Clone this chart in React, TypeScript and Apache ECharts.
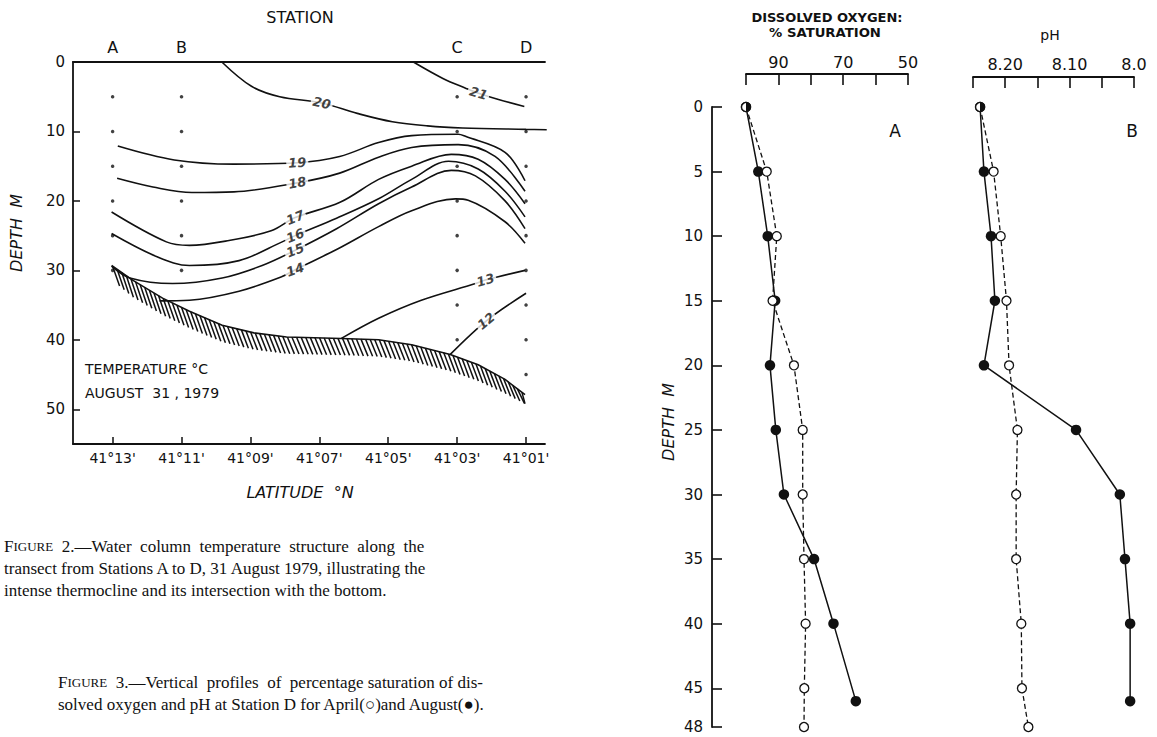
import React, { useEffect, useRef } from 'react';
import * as echarts from 'echarts';

// ---------- FIGURE 2 : temperature section (latitude in minutes past 41°N, depth m) ----------
const latTicks = [13, 11, 9, 7, 5, 3, 1];
const depthTicksFig2 = [0, 10, 20, 30, 40, 50];
const stationNames = ['A', 'B', 'C', 'D'];
const stationLat = [13, 11, 3, 1];
const stationDepths = [
  [5, 10, 15, 20, 25, 30],
  [5, 10, 15, 20, 25, 30],
  [5, 10, 15, 20, 25, 30, 35, 40],
  [5, 10, 15, 20, 25, 30, 35, 40, 45],
];

const iso21 = [[4.27, 0], [3.4, 2.4], [2.74, 3.8], [2.38, 4.5], [1.8, 5.4], [1.05, 6.4]];
const iso20 = [[9.83, 0], [8.97, 3.5], [8.15, 5.0], [6.93, 5.9], [5.9, 7.4], [4.88, 8.6], [3.86, 9.2], [2.84, 9.5], [1.0, 9.7], [0.4, 9.75]];
const iso19 = [[12.85, 12.1], [11.21, 14.1], [9.48, 14.7], [7.64, 14.5], [6.41, 13.6], [5.28, 11.6], [4.32, 10.6], [2.97, 10.4], [2.76, 10.7], [1.61, 13], [1.03, 17.1]];
const iso18 = [[12.87, 16.75], [11.83, 18], [10.7, 18.8], [9.48, 18.7], [7.64, 17.4], [6.41, 16], [5.28, 13.7], [4.32, 12.3], [2.97, 11.9], [1.9, 13.6], [1.03, 18.6]];
const iso17 = [[13.03, 21.6], [11.44, 25.9], [10.77, 26.4], [9.62, 25.7], [8.4, 24.3], [7.7, 22.4], [6.4, 20.2], [5.28, 16.9], [4.32, 15], [3.17, 13.3], [2.39, 14], [1.61, 16.9], [1.03, 20.4]];
const iso16 = [[13.03, 24.7], [11.73, 28], [10.77, 29.3], [9.33, 28.6], [8.08, 25.9], [7.7, 25], [6.5, 22.5], [5.28, 19.7], [4.32, 16.9], [3.25, 14.3], [2.39, 15.4], [1.61, 18.6], [1.03, 22.3]];
const iso15 = [[13.03, 29.4], [12.5, 31.1], [11.26, 31.9], [9.82, 31.1], [8.66, 29.3], [7.7, 27.1], [6.5, 24], [5.28, 20.4], [4.32, 18], [3.17, 15.6], [2.47, 16.4], [1.61, 20], [1.03, 24]];
const iso14 = [[11.64, 34.4], [10.77, 34.3], [9.33, 33], [8.08, 30.9], [7.7, 29.9], [6.5, 27], [5.28, 23.7], [4.32, 21.4], [3.05, 19.7], [2.68, 19.9], [1.61, 23], [1.03, 26.1]];
const iso13 = [[6.36, 39.8], [5.28, 36.9], [4.04, 34.3], [2.47, 31.9], [2.18, 31.4], [1.03, 30]];
const iso12 = [[3.2, 42.1], [2.16, 37.3], [1.0, 33.3]];

const isoLabelText = ['21', '20', '19', '18', '17', '16', '15', '14', '13', '12'];
const isoLabelLat = [2.38, 6.93, 7.64, 7.64, 7.7, 7.7, 7.7, 7.7, 2.18, 2.16];
const isoLabelDepth = [4.5, 5.9, 14.5, 17.4, 22.4, 25, 27.1, 29.9, 31.4, 37.3];

const bottomLat = [13.03, 12.42, 11.55, 10.77, 9.82, 8.9, 7.95, 6.36, 5.28, 4.32, 3.2, 2.39, 1.61, 1.03];
const bottomDepth = [29.3, 31.4, 34, 35.9, 37.9, 39.0, 39.6, 39.8, 40, 40.7, 42.1, 43.6, 45.7, 47.9];
const hatchThickness = [2.0, 2.4, 2.4, 2.4, 2.4, 2.4, 2.4, 2.4, 2.4, 2.4, 2.4, 2.3, 2.0, 1.3];

// ---------- FIGURE 3 : profiles at Station D ----------
const depthTicksFig3 = [0, 5, 10, 15, 20, 25, 30, 35, 40, 45, 48];
const doTicks = [100, 90, 80, 70, 60, 50];
const doLabels = [90, 70, 50];
const phTicks = [8.25, 8.2, 8.15, 8.1, 8.05, 8.0];
const phLabels = [8.2, 8.1, 8.0];

const depthApril = [0, 5, 10, 15, 20, 25, 30, 35, 40, 45, 48];
const doApril = [100, 93.6, 90.5, 91.8, 85.2, 82.5, 82.5, 82.1, 81.6, 82, 82.1];
const phApril = [8.239, 8.218, 8.207, 8.198, 8.194, 8.181, 8.183, 8.183, 8.175, 8.174, 8.164];

const depthAugust = [0, 5, 10, 15, 20, 25, 30, 35, 40, 46];
const doAugust = [100, 96.2, 93.3, 91.0, 92.6, 90.8, 88.3, 79, 73, 66.1];
const phAugust = [8.239, 8.233, 8.222, 8.216, 8.233, 8.09, 8.022, 8.014, 8.006, 8.006];

// ---------- styling ----------
const FONT = "'DejaVu Sans', sans-serif";
const SERIF = "'Liberation Serif', 'DejaVu Serif', serif";
const INK = '#111';
const labelRotation: Record<string, number> = { '21': -17, '20': -12, '19': 4, '18': 10, '17': 22, '16': 22, '15': 22, '14': 20, '13': 16, '12': 39 };

const halfFill = {
  type: 'linear', x: 0, y: 0, x2: 1, y2: 0,
  colorStops: [
    { offset: 0, color: '#fff' }, { offset: 0.5, color: '#fff' },
    { offset: 0.5, color: INK }, { offset: 1, color: INK },
  ],
};

function buildOption(): any {
  const isoLines = [iso21, iso20, iso19, iso18, iso17, iso16, iso15, iso14, iso13, iso12];
  const contourSeries = isoLines.map((d) => ({
    type: 'line', xAxisIndex: 0, yAxisIndex: 0, data: d, smooth: 0.35, symbol: 'none',
    lineStyle: { color: INK, width: 1.6 }, silent: true, z: 2,
  }));

  const dots: number[][] = [];
  stationLat.forEach((m, i) => stationDepths[i].forEach((d) => dots.push([m, d])));

  const profile = (x: number[], y: number[], xi: number, yi: number, open: boolean) => ({
    type: 'line', xAxisIndex: xi, yAxisIndex: yi,
    data: x.map((v, i) => {
      const item: any = { value: [v, y[i]] };
      if (open && i === 0) item.itemStyle = { color: halfFill };
      return item;
    }),
    symbol: 'circle', symbolSize: open ? 9 : 10.5,
    itemStyle: open ? { color: '#fff', borderColor: INK, borderWidth: 1.3 } : { color: INK },
    lineStyle: { color: INK, width: open ? 1.3 : 1.5, type: open ? [5, 3] : 'solid' },
    z: open ? 4 : 3, silent: true,
  });

  const txt = (text: string, x: number, y: number, extra: any = {}) => ({
    type: 'text', x, y, silent: true,
    scaleX: extra.scaleX || 1,
    style: { text, fill: INK, fontFamily: FONT, fontSize: extra.size || 15,
      fontStyle: extra.italic ? 'italic' : 'normal', fontWeight: extra.bold ? 'bold' : 'normal',
      align: extra.align || 'center', verticalAlign: 'middle' },
    rotation: extra.rotation || 0,
  });

  const capRich = { F: { fontSize: 17, fontFamily: SERIF, fill: INK }, S: { fontSize: 13, fontFamily: SERIF, fill: INK } };
  const cap = (text: string, x: number, y: number) => ({
    type: 'text', x, y, silent: true,
    style: { text, fill: INK, fontSize: 17, fontFamily: SERIF, align: 'left', verticalAlign: 'middle', rich: capRich },
  });

  const xLine = { show: true, onZero: false, lineStyle: { color: INK, width: 1.8 } };
  const yLine = { show: true, onZero: false, lineStyle: { color: INK, width: 1.8 } };

  return {
    animation: false,
    backgroundColor: '#fff',
    grid: [
      { left: 73, top: 62, width: 472, height: 382 },
      { left: 746, top: 107, width: 162, height: 620 },
      { left: 973, top: 107, width: 161, height: 620 },
    ],
    xAxis: [
      {
        gridIndex: 0, type: 'value', position: 'bottom', inverse: true, min: 0.45, max: 14.15,
        axisLine: xLine,
        axisTick: { show: true, inside: true, length: 7, customValues: latTicks, lineStyle: { color: INK, width: 1.5 } },
        axisLabel: { customValues: latTicks, margin: 7, color: INK, fontFamily: FONT, fontSize: 14,
          formatter: (v: number) => `41°${String(Math.round(v)).padStart(2, '0')}'` },
        splitLine: { show: false },
      },
      {
        gridIndex: 0, type: 'value', position: 'top', inverse: true, min: 0.45, max: 14.15,
        axisLine: xLine,
        axisTick: { show: false },
        axisLabel: { customValues: stationLat, margin: 7, color: INK, fontFamily: FONT, fontSize: 16,
          formatter: (v: number) => stationNames[stationLat.indexOf(v)] },
        splitLine: { show: false },
      },
      {
        gridIndex: 1, type: 'value', position: 'top', offset: 33, inverse: true, min: 50, max: 100,
        axisLine: xLine,
        axisTick: { show: true, inside: true, length: 11, customValues: doTicks, lineStyle: { color: INK, width: 1.6 } },
        axisLabel: { customValues: doLabels, margin: 4, color: INK, fontFamily: FONT, fontSize: 16 },
        splitLine: { show: false },
      },
      {
        gridIndex: 2, type: 'value', position: 'top', offset: 30, inverse: true, min: 8.0, max: 8.25,
        axisLine: xLine,
        axisTick: { show: true, inside: true, length: 11, customValues: phTicks, lineStyle: { color: INK, width: 1.6 } },
        axisLabel: { customValues: phLabels, margin: 5, color: INK, fontFamily: FONT, fontSize: 16,
          formatter: (v: number) => (Math.abs(v - 8) < 1e-6 ? '8.0' : v.toFixed(2)) },
        splitLine: { show: false },
      },
    ],
    yAxis: [
      {
        gridIndex: 0, type: 'value', inverse: true, min: 0, max: 55,
        axisLine: yLine,
        axisTick: { show: true, inside: true, length: 7, customValues: depthTicksFig2, lineStyle: { color: INK, width: 1.5 } },
        axisLabel: { customValues: depthTicksFig2, margin: 8, color: INK, fontFamily: FONT, fontSize: 15 },
        splitLine: { show: false },
      },
      {
        gridIndex: 1, type: 'value', inverse: true, min: 0, max: 48, position: 'left', offset: 34,
        axisLine: yLine,
        axisTick: { show: true, inside: true, length: 10, customValues: depthTicksFig3, lineStyle: { color: INK, width: 1.6 } },
        axisLabel: { customValues: depthTicksFig3, margin: 9, color: INK, fontFamily: FONT, fontSize: 15 },
        splitLine: { show: false },
      },
      {
        gridIndex: 2, type: 'value', inverse: true, min: 0, max: 48, show: false,
        splitLine: { show: false },
      },
    ],
    series: [
      ...contourSeries,
      {
        type: 'line', xAxisIndex: 0, yAxisIndex: 0, symbol: 'none', silent: true, z: 2,
        data: bottomLat.map((m, i) => [m, bottomDepth[i]]),
        lineStyle: { color: INK, width: 1.6 },
      },
      {
        type: 'custom', xAxisIndex: 0, yAxisIndex: 0, silent: true, z: 2,
        data: [[bottomLat[0], bottomDepth[0]]],
        renderItem: (_p: any, api: any) => {
          const top = bottomLat.map((m, i) => api.coord([m, bottomDepth[i]]));
          const bot = bottomLat.map((m, i) => api.coord([m, bottomDepth[i] + hatchThickness[i]]));
          const interp = (pts: number[][], x: number) => {
            for (let i = 0; i < pts.length - 1; i++) {
              const [x0, y0] = pts[i];
              const [x1, y1] = pts[i + 1];
              if (x >= x0 && x <= x1) return y0 + ((y1 - y0) * (x - x0)) / (x1 - x0);
            }
            return null;
          };
          const children: any[] = [];
          const xs = top[0][0];
          const xe = top[top.length - 1][0];
          for (let x = xs + 1; x <= xe - 2; x += 4.6) {
            const yu = interp(top, x);
            const xb = Math.min(x + 7, xe);
            const yl = interp(bot, xb);
            if (yu == null || yl == null) continue;
            children.push({ type: 'line', shape: { x1: x, y1: yu, x2: xb, y2: yl }, style: { stroke: INK, lineWidth: 1.5 } });
          }
          return { type: 'group', children };
        },
      },
      {
        type: 'scatter', xAxisIndex: 0, yAxisIndex: 0, data: dots, symbolSize: 3.5,
        itemStyle: { color: INK }, silent: true, z: 3,
      },
      {
        type: 'scatter', xAxisIndex: 0, yAxisIndex: 0, symbolSize: 1, silent: true, z: 6,
        itemStyle: { color: 'rgba(0,0,0,0)' },
        data: isoLabelText.map((t, i) => ({ name: t, value: [isoLabelLat[i], isoLabelDepth[i]], label: { rotate: labelRotation[t] } })),
        label: {
          show: true, position: 'inside', formatter: '{b}', color: INK, fontFamily: FONT, fontSize: 13,
          fontStyle: 'italic', fontWeight: 'bold', backgroundColor: '#fff', padding: [0, 2],
        },
      },
      profile(doAugust, depthAugust, 2, 1, false),
      profile(doApril, depthApril, 2, 1, true),
      profile(phAugust, depthAugust, 3, 2, false),
      profile(phApril, depthApril, 3, 2, true),
    ],
    graphic: [
      txt('STATION', 300, 17, { size: 16 }),
      txt('DEPTH  M', 16, 233, { size: 16, italic: true, rotation: Math.PI / 2 }),
      txt('LATITUDE  °N', 300, 492, { size: 16, italic: true }),
      txt('TEMPERATURE °C', 85, 369, { size: 14, align: 'left' }),
      txt('AUGUST  31 , 1979', 85, 393, { size: 14, align: 'left' }),
      txt('DISSOLVED OXYGEN:', 827, 18, { size: 11.5, bold: true, scaleX: 1.13 }),
      txt('% SATURATION', 825, 33, { size: 11.5, bold: true, scaleX: 1.15 }),
      txt('pH', 1050, 35, { size: 14 }),
      txt('A', 895, 131, { size: 17 }),
      txt('B', 1132, 131, { size: 17 }),
      txt('DEPTH  M', 668, 422, { size: 16, italic: true, rotation: Math.PI / 2 }),
      cap('{F|F}{S|IGURE}  2.—Water  column  temperature  structure  along  the', 4, 546),
      cap('transect from Stations A to D, 31 August 1979, illustrating the', 4, 568),
      cap('intense thermocline and its intersection with the bottom.', 4, 590),
      cap('{F|F}{S|IGURE}  3.—Vertical  profiles  of  percentage saturation of dis-', 58, 682),
      cap('solved oxygen and pH at Station D for April(○)and August(●).', 58, 704),
    ],
  };
}

export default function App() {
  const ref = useRef<HTMLDivElement>(null);
  useEffect(() => {
    if (!ref.current) return;
    const chart = echarts.init(ref.current, undefined, { renderer: 'svg' });
    chart.setOption(buildOption());
    return () => chart.dispose();
  }, []);
  return <div ref={ref} style={{ position: 'fixed', left: 0, top: 0, width: 1157, height: 737, background: '#fff' }} />;
}
